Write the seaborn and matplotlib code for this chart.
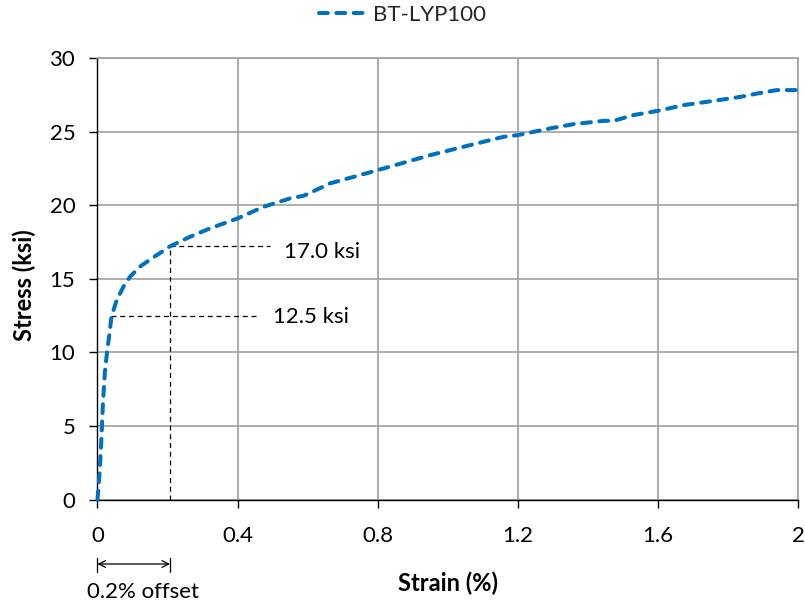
import matplotlib
matplotlib.use("Agg")
import matplotlib.pyplot as plt
import seaborn as sns
import numpy as np
import pandas as pd

# ---- data ----
strain = [0, 0.006, 0.011, 0.015, 0.021, 0.028, 0.034, 0.040, 0.055, 0.074,
          0.093, 0.121, 0.155, 0.207, 0.264, 0.321, 0.40, 0.474, 0.55, 0.59,
          0.664, 0.80, 0.95, 1.064, 1.16, 1.20, 1.293, 1.36, 1.445, 1.474,
          1.53, 1.60, 1.674, 1.76, 1.836, 1.893, 1.94, 2.0]
stress = [0, 1.8, 4.0, 6.3, 8.6, 10.2, 11.2, 12.45, 13.55, 14.46,
          15.14, 15.82, 16.38, 17.2, 17.85, 18.42, 19.1, 19.89, 20.46, 20.65,
          21.48, 22.38, 23.4, 24.08, 24.65, 24.76, 25.22, 25.51, 25.73, 25.73,
          26.12, 26.41, 26.8, 27.09, 27.36, 27.63, 27.82, 27.82]
series_name = "BT-LYP100"
x_ticks = [0, 0.4, 0.8, 1.2, 1.6, 2.0]
x_tick_labels = ["0", "0.4", "0.8", "1.2", "1.6", "2"]
y_ticks = [0, 5, 10, 15, 20, 25, 30]
offset_strain = 0.207
yield_upper = 17.2
yield_lower = 12.45
yield_lower_strain = 0.04
label_upper = "17.0 ksi"
label_lower = "12.5 ksi"
offset_label = "0.2% offset"

df = pd.DataFrame({"Strain": strain, "Stress": stress})

sns.set_theme(style="white")
plt.rcParams["font.family"] = ["Lato", "DejaVu Sans"]

fig = plt.figure(figsize=(8.05, 6.06), dpi=100)
ax = fig.add_axes([0.1211, 0.1757, 0.8702, 0.7286])

sns.lineplot(data=df, x="Strain", y="Stress", ax=ax, color="#0070C0",
             linewidth=2.9, label=series_name, sort=False)
line = ax.lines[0]
line.set_dashes((2.2, 2.1))
line.set_dash_capstyle("round")
line.set_clip_on(False)
line.set_zorder(5)

ax.set_xlim(0, 2)
ax.set_ylim(0, 30)
ax.set_xticks(x_ticks)
ax.set_xticklabels(x_tick_labels)
ax.set_yticks(y_ticks)

ax.grid(True, color="#a0a0a0", linewidth=1.2)
ax.set_axisbelow(True)
for s in ["top", "right"]:
    ax.spines[s].set_color("#a0a0a0")
    ax.spines[s].set_linewidth(1.2)
for s in ["left", "bottom"]:
    ax.spines[s].set_color("black")
    ax.spines[s].set_linewidth(1.0)

ax.tick_params(axis="both", which="major", direction="out", length=6,
               width=1.0, color="black", labelsize=16, labelcolor="black",
               left=True, bottom=True)
ax.tick_params(axis="x", pad=13)
ax.tick_params(axis="y", pad=10)

ax.set_xlabel("Strain (%)", fontsize=17, fontweight="bold", color="black")
ax.set_ylabel("Stress (ksi)", fontsize=17, fontweight="bold", color="black")
ax.xaxis.set_label_coords(0.5, -0.189)
ax.xaxis.label.set_va("center")
ax.yaxis.set_label_coords(-0.105, 0.486)
ax.yaxis.label.set_va("center")

# annotation lines
dash_kw = dict(color="black", linewidth=0.9, dashes=(4, 3), zorder=4)
ax.plot([offset_strain, offset_strain], [0, yield_upper], **dash_kw)
ax.plot([offset_strain, 0.493], [yield_upper, yield_upper], **dash_kw)
ax.plot([yield_lower_strain, 0.459], [yield_lower, yield_lower], **dash_kw)

ax.text(0.533, 16.83, label_upper, fontsize=16, va="center", ha="left", color="black")
ax.text(0.502, 12.4, label_lower, fontsize=16, va="center", ha="left", color="black")

# 0.2% offset arrow below axis
tr = ax.get_xaxis_transform()
ax.annotate("", xy=(0, -0.146), xytext=(offset_strain, -0.146),
            xycoords=tr, textcoords=tr,
            arrowprops=dict(arrowstyle="<->", color="black", lw=0.9,
                            shrinkA=0, shrinkB=0, mutation_scale=12),
            annotation_clip=False)
for xv in [0, offset_strain]:
    ax.plot([xv, xv], [-0.133, -0.165], transform=tr, color="black",
            linewidth=0.9, clip_on=False)
ax.text(0.1286, -0.2095, offset_label, transform=tr, fontsize=16,
        ha="center", va="center", color="black")

# legend at top centre
handles, labels = ax.get_legend_handles_labels()
ax.get_legend().remove()
leg = fig.legend(handles, labels, loc="center", bbox_to_anchor=(0.5, 0.975),
                 frameon=False, fontsize=16, handlelength=2.0,
                 handletextpad=0.4)

fig.savefig("out.png", dpi=100)
